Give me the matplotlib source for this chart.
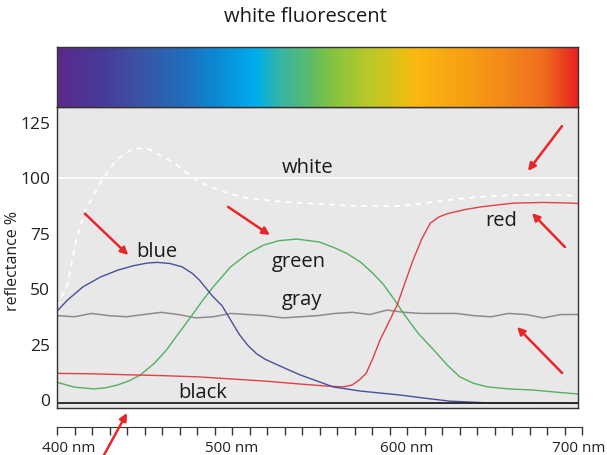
import numpy as np
import matplotlib
matplotlib.use("Agg")
import matplotlib.pyplot as plt
import matplotlib.transforms as mtransforms
from matplotlib.colors import LinearSegmentedColormap
from matplotlib.patches import FancyArrowPatch

plt.rcParams['font.family'] = ['Open Sans', 'DejaVu Sans']

# reflectance curves (wavelength in nm, reflectance in %)
white_nm = [400, 406, 411, 416, 425, 434, 444, 453, 467, 482, 495, 509, 527, 547,
            570, 586, 600, 624, 643, 662, 680, 700]
white_val = [42, 52, 72, 85, 98, 108, 113.5, 113, 107, 98, 94, 91, 89.5, 88.5,
             87.5, 87.3, 87.5, 90, 91.5, 92.3, 92.5, 92]

blue_nm = [400, 406, 415, 425, 435, 444, 452, 458, 465, 472, 478, 482, 490, 495,
           500, 505, 510, 515, 520, 527, 540, 550, 559, 575, 597, 610, 626, 648, 700]
blue_val = [40, 45, 51, 55.4, 58.5, 60.5, 61.7, 62, 61.5, 60, 57, 54, 46.4, 42.5,
            36, 29.5, 24.5, 20.8, 18.3, 15.8, 11.3, 8.5, 5.9, 4, 2.3, 1, -0.5, -1.3, -1.5]

green_nm = [400, 410, 421, 428, 435, 442, 448, 456, 463, 470, 477, 484, 490, 500,
            510, 519, 528, 538, 551, 560, 567, 575, 582, 588, 594, 600, 608, 617,
            625, 632, 640, 648, 660, 674, 688, 700]
green_val = [8, 5.8, 5, 5.5, 6.8, 8.8, 11.3, 16.5, 22.5, 30, 37.4, 45, 51, 60,
             66, 69.8, 71.8, 72.5, 71.2, 68.5, 66, 62, 57, 52, 45.5, 38.5, 30, 22.5,
             15.5, 10.4, 7.5, 5.9, 5, 4.5, 3.5, 2.7]

red_nm = [400, 420, 444, 460, 482, 500, 520, 540, 555, 565, 570, 574, 578, 582,
          586, 591, 596, 600, 605, 610, 615, 620, 625, 635, 644, 655, 663, 680,
          697, 700]
red_val = [12, 11.8, 11.3, 11, 10.4, 9.5, 8.5, 7.2, 6.3, 5.9, 6.8, 9, 12, 19,
           27, 35, 43, 52, 63, 72.5, 79.7, 82.5, 84, 85.8, 87, 88, 88.7, 89,
           88.7, 88.5]

gray_nm = list(range(400, 701, 10))
gray_val = [38, 37.5, 39, 38, 37.5, 38.5, 39.5, 38.5, 37, 37.5, 39, 38.5, 38, 37,
            37.5, 38, 39, 39.5, 38.5, 40.5, 39.5, 39, 39, 39, 38, 37.5, 39, 38.5,
            37, 38.5, 38.5]

black_nm = [400, 550, 700]
black_val = [-1.5, -1.5, -1.5]

white_ref = 100

# visible spectrum strip
spec_pos = [0.0, 0.077, 0.165, 0.248, 0.307, 0.382, 0.426, 0.486, 0.523, 0.597,
            0.649, 0.691, 0.783, 0.858, 0.933, 1.0]
spec_col = ['#5a2a8a', '#4b3897', '#3a55a5', '#1f6fbf', '#0b8ad4', '#00aeef',
            '#35b4a5', '#5cbb6a', '#80c342', '#b8c82a', '#dcc318', '#fbb810',
            '#f6a013', '#f38a1a', '#f06f1e', '#e8231f']

W, H = 607, 455
fig = plt.figure(figsize=(W / 100, H / 100), dpi=100)

def box(x0, y0, x1, y1):
    return [x0 / W, 1 - y1 / H, (x1 - x0) / W, (y1 - y0) / H]

ax = fig.add_axes(box(57, 107, 578, 408))
ax_spec = fig.add_axes(box(57, 47, 578, 107))
ax_rule = fig.add_axes(box(57, 400, 582, 427))

# spectrum bar
cmap = LinearSegmentedColormap.from_list('spec', list(zip(spec_pos, spec_col)))
ax_spec.imshow(np.linspace(0, 1, 512)[None, :], aspect='auto', cmap=cmap,
               extent=[400, 700, 0, 1])
ax_spec.set_xticks([])
ax_spec.set_yticks([])
for s in ax_spec.spines.values():
    s.set_color('#333333')
    s.set_linewidth(1.0)

# reflectance plot
ax.set_facecolor('#e8e8e8')
ax.set_xlim(400, 700)
ax.set_ylim(-3.6, 132)
ax.axhline(white_ref, color='white', lw=1.2)
ax.plot(white_nm, white_val, color='white', lw=1.3, ls=(0, (3, 3)))
ax.plot(gray_nm, gray_val, color='#8c8c8c', lw=1.1)
ax.plot(green_nm, green_val, color='#52b060', lw=1.0)
ax.plot(red_nm, red_val, color='#e04048', lw=1.0)
ax.plot(blue_nm, blue_val, color='#4a4f9c', lw=1.0)
ax.plot(black_nm, black_val, color='#222222', lw=1.3)

ax.set_xticks([])
ax.set_yticks([0, 25, 50, 75, 100, 125])
ax.tick_params(axis='y', length=0, pad=5, labelsize=12.5, labelcolor='#222222')
ax.set_ylabel('reflectance %', fontsize=11.5, color='#222222')
ax.yaxis.set_label_coords(-0.069, 0.488)
for s in ax.spines.values():
    s.set_color('#333333')
    s.set_linewidth(1.0)

lab = dict(fontsize=14.5, color='#1a1a1a', ha='center', va='center')
ax.text(544, 104.5, 'white', **lab)
ax.text(457.6, 66.7, 'blue', **lab)
ax.text(539, 62.2, 'green', **lab)
ax.text(541, 45, 'gray', **lab)
ax.text(484, 3.2, 'black', **lab)
ax.text(656, 80.6, 'red', **lab)

arrow = dict(arrowstyle='-|>', color='#e8262a', lw=1.8, mutation_scale=11,
             shrinkA=0, shrinkB=0)
for tail, head in [((416, 84), (441, 65.3)),
                   ((498.5, 87), (522.6, 74.3)),
                   ((690.8, 123.4), (671.2, 103.2)),
                   ((692.5, 68.9), (673.5, 84.2)),
                   ((690.8, 12.2), (664.9, 32.9))]:
    ax.annotate('', xy=head, xytext=tail, arrowprops=arrow)
fig.add_artist(FancyArrowPatch((104 / W, 0.0), (127 / W, 1 - 413 / H),
                               transform=fig.transFigure, **arrow))

# wavelength ruler
ax_rule.set_xlim(400, 700)
ax_rule.set_ylim(0, 1)
ax_rule.patch.set_visible(False)
for k in ['top', 'left', 'right']:
    ax_rule.spines[k].set_visible(False)
ax_rule.spines['bottom'].set_color('#333333')
ax_rule.set_yticks([])
ax_rule.set_xticks([400, 500, 600, 700])
ax_rule.set_xticklabels(['400 nm', '500 nm', '600 nm', '700 nm'])
ax_rule.set_xticks(np.arange(400, 701, 10), minor=True)
ax_rule.tick_params(axis='x', which='both', direction='out', length=6,
                    width=1, color='#333333', labelsize=11, pad=4,
                    labelcolor='#222222')
ticklabels = ax_rule.get_xticklabels()
for t, dx in [(ticklabels[0], 12), (ticklabels[-1], -3)]:
    t.set_transform(t.get_transform() +
                    mtransforms.ScaledTranslation(dx / 100, 0, fig.dpi_scale_trans))

fig.text(305 / W, 1 - 17 / H, 'white fluorescent', fontsize=14.5,
         color='#1a1a1a', ha='center', va='center')

fig.savefig('out.png', dpi=100)
